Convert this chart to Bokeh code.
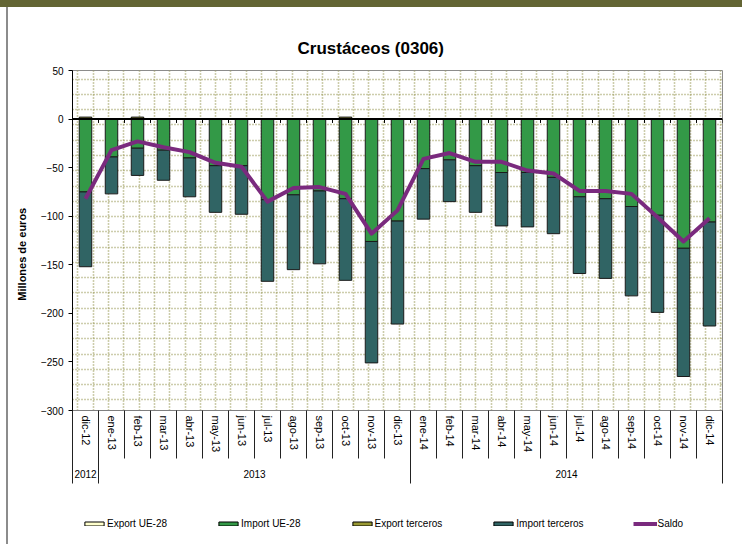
from bokeh.plotting import figure
from bokeh.layouts import column, row
from bokeh.models import (FixedTicker, LinearAxis, Grid, Span, Legend, Div, Spacer,
                          LegendItem, ColumnDataSource, Range1d)
from bokeh.transform import stack
from bokeh.embed import file_html
from bokeh.resources import INLINE

# ---------------- data ----------------
months = ["dic-12", "ene-13", "feb-13", "mar-13", "abr-13", "may-13", "jun-13",
          "jul-13", "ago-13", "sep-13", "oct-13", "nov-13", "dic-13",
          "ene-14", "feb-14", "mar-14", "abr-14", "may-14", "jun-14",
          "jul-14", "ago-14", "sep-14", "oct-14", "nov-14", "dic-14"]
years = ["2012", "2013", "2014"]
months_per_year = [1, 12, 12]

export_ue = [0, 0, 0, 0, 0, 0, 0, 0, 0, 0, 0, 0, 0,
             0, 0, 0, 0, 0, 0, 0, 0, 0, 0, 0, 0]
import_ue = [-75, -39, -30, -32, -40, -48, -48, -83, -78, -74, -82, -126, -105,
             -51, -42, -48, -55, -55, -60, -80, -82, -90, -99, -133, -106]
export_ter = [2, 0, 2, 0, 0, 0, 0, 0, 0, 0, 2, 0, 0,
              0, 0, 0, 0, 0, 0, 0, 0, 0, 0, 0, 0]
import_ter = [-77, -38, -28, -31, -40, -48, -50, -84, -77, -75, -84, -125, -106,
              -52, -43, -48, -55, -56, -58, -79, -82, -92, -100, -132, -107]
saldo = [-82, -32, -23, -29, -34, -45, -49, -85, -71, -70, -77, -118, -94,
         -41, -35, -44, -44, -53, -56, -74, -74, -77, -101, -126, -102]

series_labels = ["Export UE-28", "Import UE-28", "Export terceros", "Import terceros", "Saldo"]
y_ticks = [50, 0, -50, -100, -150, -200, -250, -300]

# ---------------- styles ----------------
FONT = "Liberation Sans"
C_EXP_UE = "#ffffcc"
C_IMP_UE = "#339947"
C_EXP_TER = "#999933"
C_IMP_TER = "#306464"
C_SALDO = "#7a2a7e"

n = len(months)
xs = list(range(n))
src = ColumnDataSource(dict(x=xs, export_ue=export_ue, import_ue=import_ue,
                            export_ter=export_ter, import_ter=import_ter, saldo=saldo))

p = figure(width=734, height=493, output_backend="svg", toolbar_location=None,
           x_axis_type=None, y_axis_type=None,
           x_range=Range1d(-0.5, n - 0.5), y_range=Range1d(-300, 50),
           min_border_left=64, min_border_right=20, min_border_top=63, min_border_bottom=90,
           title="Crustáceos (0306)")
p.outline_line_color = "#8c8c8c"
p.outline_line_width = 1
p.background_fill_color = "white"
p.border_fill_color = "white"

p.title.text_font = FONT
p.title.text_font_style = "bold"
p.title.text_font_size = "17px"
p.title.align = "left"
p.title.offset = 225
p.title.standoff = 25
p.title.text_color = "black"

# dotted pattern grid
xg = [-0.29 + 0.5885 * k for k in range(43)]
yg = [41.1 - 15.72 * k for k in range(22)]
for dim, ticks in ((0, xg), (1, yg)):
    g = Grid(dimension=dim, ticker=FixedTicker(ticks=ticks),
             grid_line_color="#9a9a58", grid_line_width=1.6, grid_line_dash="1 2")
    p.add_layout(g)

# left axis
yax = LinearAxis(ticker=FixedTicker(ticks=y_ticks))
yax.axis_line_color = "black"
yax.major_tick_out = 4
yax.major_tick_in = 0
yax.minor_tick_line_color = None
yax.major_label_text_font = FONT
yax.major_label_text_font_size = "10px"
yax.major_label_text_color = "black"
yax.major_label_standoff = 5
yax.axis_label = "Millones de euros" + "\u00a0" * 9
yax.axis_label_text_font = FONT
yax.axis_label_text_font_style = "bold"
yax.axis_label_text_font_size = "11px"
yax.axis_label_text_color = "black"
yax.axis_label_standoff = 10
p.add_layout(yax, "left")

# month axis
boundaries = [i - 0.5 for i in range(n + 1)]
xax = LinearAxis(ticker=FixedTicker(ticks=xs, minor_ticks=boundaries))
xax.major_label_overrides = {i: m for i, m in enumerate(months)}
xax.major_label_orientation = "vertical"
xax.major_tick_out = 0
xax.major_tick_in = 0
xax.minor_tick_out = 48
xax.minor_tick_in = 0
xax.minor_tick_line_color = "#222222"
xax.axis_line_color = "#7f7f7f"
xax.major_label_text_font = FONT
xax.major_label_text_font_size = "11px"
xax.major_label_text_color = "black"
xax.major_label_standoff = -43
p.add_layout(xax, "below")

# year axis
year_centers = []
year_bounds = [-0.5]
start = 0
for cnt in months_per_year:
    year_centers.append(start + (cnt - 1) / 2)
    start += cnt
    year_bounds.append(start - 0.5)
xax2 = LinearAxis(ticker=FixedTicker(ticks=year_centers, minor_ticks=year_bounds))
xax2.major_label_overrides = {c: y for c, y in zip(year_centers, years)}
xax2.axis_line_color = None
xax2.major_tick_line_color = None
xax2.major_tick_out = 0
xax2.major_tick_in = 0
xax2.minor_tick_out = 28
xax2.minor_tick_in = 0
xax2.minor_tick_line_color = "#222222"
xax2.major_label_text_font = FONT
xax2.major_label_text_font_size = "10px"
xax2.major_label_text_color = "black"
xax2.major_label_standoff = -14
p.add_layout(xax2, "below")

# bars
W = 0.48
p.vbar(x="x", bottom=0, top=stack("export_ue"), width=W, source=src,
       fill_color=C_EXP_UE, line_color="black", line_width=1)
p.vbar(x="x", bottom=stack("export_ue"), top=stack("export_ue", "export_ter"),
       width=W, source=src, fill_color=C_EXP_TER, line_color="black", line_width=1)
p.vbar(x="x", top=0, bottom=stack("import_ue"), width=W, source=src,
       fill_color=C_IMP_UE, line_color="#1a1a1a", line_width=1)
p.vbar(x="x", top=stack("import_ue"), bottom=stack("import_ue", "import_ter"),
       width=W, source=src, fill_color=C_IMP_TER, line_color="#1a1a1a", line_width=1)

# zero line & category ticks
p.add_layout(Span(location=0, dimension="width", line_color="black", line_width=2))
p.segment(x0=boundaries, y0=[0] * len(boundaries), x1=boundaries, y1=[-4] * len(boundaries),
          line_color="black", line_width=1)

p.line(x="x", y="saldo", source=src, line_color=C_SALDO, line_width=4, line_join="round")

# ---------------- legend strip ----------------
lg = figure(width=734, height=44, output_backend="svg", toolbar_location=None,
            x_axis_type=None, y_axis_type=None,
            x_range=Range1d(0, 1), y_range=Range1d(0, 1),
            min_border_left=0, min_border_right=0, min_border_top=0, min_border_bottom=0)
lg.outline_line_color = None
lg.border_fill_color = "white"
# legend swatch renderers (kept outside the visible range of this strip)
l1 = lg.vbar(x=[-5], top=[-5], width=0.1, fill_color=C_EXP_UE, line_color="black")
l2 = lg.vbar(x=[-5], top=[-5], width=0.1, fill_color=C_IMP_UE, line_color="black")
l3 = lg.vbar(x=[-5], top=[-5], width=0.1, fill_color=C_EXP_TER, line_color="black")
l4 = lg.vbar(x=[-5], top=[-5], width=0.1, fill_color=C_IMP_TER, line_color="black")
l5 = lg.line(x=[-5, -4], y=[-5, -5], line_color=C_SALDO, line_width=4)

legend = Legend(items=[LegendItem(label=t, renderers=[r])
                       for t, r in zip(series_labels, [l1, l2, l3, l4, l5])],
                orientation="horizontal", location=(10, 15))
legend.glyph_width = 24
legend.glyph_height = 5
legend.label_standoff = 1
legend.spacing = 49
legend.padding = 0
legend.margin = 0
legend.border_line_color = None
legend.background_fill_alpha = 0
legend.label_text_font = FONT
legend.label_text_font_size = "10px"
legend.label_text_color = "black"
legend.label_height = 12
lg.add_layout(legend, "center")

band = Div(text="", width=742, height=7, margin=0, styles={"background-color": "#636534"})
left_gap = Spacer(width=6, height=537, margin=0)
left_line = Div(text="", width=2, height=537, margin=0, styles={"background-color": "#8c8c8c"})

layout = column(band, row(left_gap, left_line, column(p, lg, spacing=0), spacing=0), spacing=0)
open("out.html", "w").write(file_html(layout, INLINE))
